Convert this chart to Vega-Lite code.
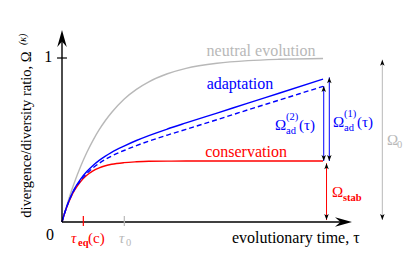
{
  "$schema": "https://vega.github.io/schema/vega-lite/v6.json",
  "width": 415,
  "height": 265,
  "autosize": {"type": "none"},
  "padding": 0,
  "background": "white",
  "config": {"view": {"stroke": null}, "text": {"font": "'Liberation Serif', 'DejaVu Serif', serif"}},
  "datasets": {
    "curves": [
      {"series": "neutral", "tau": 0, "omega": 0},
      {"series": "neutral", "tau": 0.05, "omega": 0.066},
      {"series": "neutral", "tau": 0.1, "omega": 0.128},
      {"series": "neutral", "tau": 0.15, "omega": 0.187},
      {"series": "neutral", "tau": 0.2, "omega": 0.241},
      {"series": "neutral", "tau": 0.3, "omega": 0.339},
      {"series": "neutral", "tau": 0.4, "omega": 0.424},
      {"series": "neutral", "tau": 0.5, "omega": 0.498},
      {"series": "neutral", "tau": 0.6, "omega": 0.563},
      {"series": "neutral", "tau": 0.7, "omega": 0.619},
      {"series": "neutral", "tau": 0.8, "omega": 0.668},
      {"series": "neutral", "tau": 1.0, "omega": 0.749},
      {"series": "neutral", "tau": 1.2, "omega": 0.809},
      {"series": "neutral", "tau": 1.4, "omega": 0.855},
      {"series": "neutral", "tau": 1.7, "omega": 0.904},
      {"series": "neutral", "tau": 2.0, "omega": 0.937},
      {"series": "neutral", "tau": 2.5, "omega": 0.968},
      {"series": "neutral", "tau": 3.0, "omega": 0.984},
      {"series": "neutral", "tau": 3.5, "omega": 0.992},
      {"series": "neutral", "tau": 4.21, "omega": 0.997},
      {"series": "conservation", "tau": 0, "omega": 0},
      {"series": "conservation", "tau": 0.05, "omega": 0.062},
      {"series": "conservation", "tau": 0.1, "omega": 0.113},
      {"series": "conservation", "tau": 0.15, "omega": 0.156},
      {"series": "conservation", "tau": 0.2, "omega": 0.192},
      {"series": "conservation", "tau": 0.3, "omega": 0.247},
      {"series": "conservation", "tau": 0.4, "omega": 0.285},
      {"series": "conservation", "tau": 0.5, "omega": 0.312},
      {"series": "conservation", "tau": 0.6, "omega": 0.33},
      {"series": "conservation", "tau": 0.7, "omega": 0.343},
      {"series": "conservation", "tau": 0.8, "omega": 0.352},
      {"series": "conservation", "tau": 1.0, "omega": 0.362},
      {"series": "conservation", "tau": 1.2, "omega": 0.367},
      {"series": "conservation", "tau": 1.4, "omega": 0.37},
      {"series": "conservation", "tau": 1.7, "omega": 0.371},
      {"series": "conservation", "tau": 2.0, "omega": 0.372},
      {"series": "conservation", "tau": 3.0, "omega": 0.372},
      {"series": "conservation", "tau": 4.21, "omega": 0.372},
      {"series": "adaptation", "tau": 0, "omega": 0},
      {"series": "adaptation", "tau": 0.05, "omega": 0.064},
      {"series": "adaptation", "tau": 0.1, "omega": 0.118},
      {"series": "adaptation", "tau": 0.15, "omega": 0.163},
      {"series": "adaptation", "tau": 0.2, "omega": 0.202},
      {"series": "adaptation", "tau": 0.3, "omega": 0.262},
      {"series": "adaptation", "tau": 0.4, "omega": 0.308},
      {"series": "adaptation", "tau": 0.5, "omega": 0.345},
      {"series": "adaptation", "tau": 0.6, "omega": 0.376},
      {"series": "adaptation", "tau": 0.7, "omega": 0.402},
      {"series": "adaptation", "tau": 0.8, "omega": 0.425},
      {"series": "adaptation", "tau": 1.0, "omega": 0.463},
      {"series": "adaptation", "tau": 1.2, "omega": 0.497},
      {"series": "adaptation", "tau": 1.4, "omega": 0.527},
      {"series": "adaptation", "tau": 1.7, "omega": 0.567},
      {"series": "adaptation", "tau": 2.0, "omega": 0.604},
      {"series": "adaptation", "tau": 2.5, "omega": 0.664},
      {"series": "adaptation", "tau": 3.0, "omega": 0.725},
      {"series": "adaptation", "tau": 3.5, "omega": 0.785},
      {"series": "adaptation", "tau": 4.21, "omega": 0.871},
      {"series": "adaptation2", "tau": 0, "omega": 0},
      {"series": "adaptation2", "tau": 0.05, "omega": 0.063},
      {"series": "adaptation2", "tau": 0.1, "omega": 0.116},
      {"series": "adaptation2", "tau": 0.15, "omega": 0.16},
      {"series": "adaptation2", "tau": 0.2, "omega": 0.197},
      {"series": "adaptation2", "tau": 0.3, "omega": 0.253},
      {"series": "adaptation2", "tau": 0.4, "omega": 0.296},
      {"series": "adaptation2", "tau": 0.5, "omega": 0.33},
      {"series": "adaptation2", "tau": 0.6, "omega": 0.358},
      {"series": "adaptation2", "tau": 0.7, "omega": 0.382},
      {"series": "adaptation2", "tau": 0.8, "omega": 0.402},
      {"series": "adaptation2", "tau": 1.0, "omega": 0.436},
      {"series": "adaptation2", "tau": 1.2, "omega": 0.466},
      {"series": "adaptation2", "tau": 1.4, "omega": 0.493},
      {"series": "adaptation2", "tau": 1.7, "omega": 0.53},
      {"series": "adaptation2", "tau": 2.0, "omega": 0.565},
      {"series": "adaptation2", "tau": 2.5, "omega": 0.624},
      {"series": "adaptation2", "tau": 3.0, "omega": 0.684},
      {"series": "adaptation2", "tau": 3.5, "omega": 0.743},
      {"series": "adaptation2", "tau": 4.21, "omega": 0.827}
    ],
    "segments": [
      {"name": "y axis", "series": "axis", "kind": "axis", "tau": 0, "omega": 0, "tau2": 0, "omega2": 1.12},
      {"name": "x axis", "series": "axis", "kind": "axis", "tau": 0, "omega": 0, "tau2": 4.58, "omega2": 0},
      {"name": "tick 1", "series": "axis", "kind": "tick", "tau": -0.08, "omega": 1, "tau2": 0.08, "omega2": 1},
      {"name": "tau_eq", "series": "conservation", "kind": "tick", "tau": 0.344, "omega": -0.024, "tau2": 0.344, "omega2": 0.037},
      {"name": "tau_0", "series": "neutral", "kind": "tick", "tau": 1.005, "omega": -0.024, "tau2": 1.005, "omega2": 0.037},
      {"name": "Omega_ad1", "series": "adaptation", "kind": "dimension", "tau": 4.311, "omega": 0.372, "tau2": 4.311, "omega2": 0.882},
      {"name": "Omega_ad2", "series": "adaptation", "kind": "dimension", "tau": 4.221, "omega": 0.372, "tau2": 4.221, "omega2": 0.829},
      {"name": "Omega_stab", "series": "conservation", "kind": "dimension", "tau": 4.266, "omega": 0.012, "tau2": 4.266, "omega2": 0.358},
      {"name": "Omega_0", "series": "neutral", "kind": "dimension", "tau": 5.166, "omega": 0.012, "tau2": 5.166, "omega2": 0.99}
    ],
    "heads": [
      {"dir": "up-axis", "tau": 0, "omega": 1.171},
      {"dir": "right-axis", "tau": 4.677, "omega": 0},
      {"dir": "up", "tau": 4.311, "omega": 0.882},
      {"dir": "down", "tau": 4.311, "omega": 0.372},
      {"dir": "up", "tau": 4.221, "omega": 0.829},
      {"dir": "down", "tau": 4.221, "omega": 0.372},
      {"dir": "up", "tau": 4.266, "omega": 0.358},
      {"dir": "down", "tau": 4.266, "omega": 0.012},
      {"dir": "up", "tau": 5.166, "omega": 0.99},
      {"dir": "down", "tau": 5.166, "omega": 0.012}
    ],
    "labels": [
      {"label": "neutral evolution", "tau": 3.21, "omega": 1.015, "series": "neutral", "role": "word"},
      {"label": "adaptation", "tau": 2.87, "omega": 0.809, "series": "adaptation", "role": "word"},
      {"label": "conservation", "tau": 2.968, "omega": 0.399, "series": "conservation", "role": "word"},
      {"label": "evolutionary time, τ", "tau": 3.77, "omega": -0.126, "series": "axis", "role": "word"},
      {"label": "0", "tau": -0.194, "omega": -0.11, "series": "axis", "role": "word"},
      {"label": "1", "tau": -0.22, "omega": 0.973, "series": "axis", "role": "word"},
      {"label": "Ω", "tau": 3.435, "omega": 0.561, "series": "adaptation", "role": "math"},
      {"label": "(τ)", "tau": 3.823, "omega": 0.561, "series": "adaptation", "role": "math"},
      {"label": "Ω", "tau": 4.371, "omega": 0.579, "series": "adaptation", "role": "math"},
      {"label": "(τ)", "tau": 4.758, "omega": 0.579, "series": "adaptation", "role": "math"},
      {"label": "Ω", "tau": 5.242, "omega": 0.47, "series": "neutral", "role": "math"},
      {"label": "Ω", "tau": 4.355, "omega": 0.152, "series": "conservation", "role": "math"},
      {"label": "(c)", "tau": 0.419, "omega": -0.128, "series": "conservation", "role": "math"},
      {"label": "τ", "tau": 0.145, "omega": -0.128, "series": "conservation", "role": "mathit"},
      {"label": "τ", "tau": 0.919, "omega": -0.128, "series": "neutral", "role": "mathit"},
      {"label": "(2)", "tau": 3.613, "omega": 0.622, "series": "adaptation", "role": "script"},
      {"label": "ad", "tau": 3.613, "omega": 0.537, "series": "adaptation", "role": "script"},
      {"label": "(1)", "tau": 4.548, "omega": 0.64, "series": "adaptation", "role": "script"},
      {"label": "ad", "tau": 4.548, "omega": 0.555, "series": "adaptation", "role": "script"},
      {"label": "0", "tau": 5.403, "omega": 0.451, "series": "neutral", "role": "script"},
      {"label": "0", "tau": 1.032, "omega": -0.146, "series": "neutral", "role": "script"},
      {"label": "stab", "tau": 4.532, "omega": 0.128, "series": "conservation", "role": "scriptbold"},
      {"label": "eq", "tau": 0.258, "omega": -0.146, "series": "conservation", "role": "scriptbold"},
      {"label": "divergence/diversity ratio, Ω", "tau": -0.492, "omega": 1.04, "series": "axis", "role": "ytitle"},
      {"label": "(κ)", "tau": -0.58, "omega": 1.079, "series": "axis", "role": "ysup"}
    ]
  },
  "layer": [
    {
      "data": {"name": "curves"},
      "transform": [{"filter": "datum.series !== 'adaptation2'"}],
      "mark": {"type": "line", "strokeWidth": 1.4, "interpolate": "monotone"},
      "encoding": {
        "x": {"field": "tau", "type": "quantitative", "scale": {"domain": [0, 4.677], "range": [62, 352], "nice": false, "zero": false}, "axis": null},
        "y": {"field": "omega", "type": "quantitative", "scale": {"domain": [0, 1], "range": [222, 58], "nice": false, "zero": false}, "axis": null},
        "color": {"field": "series", "type": "nominal", "scale": {"domain": ["neutral", "adaptation", "adaptation2", "conservation", "axis"], "range": ["#b8b8b8", "#0000ff", "#0000ff", "#ff0000", "#000000"]}, "legend": null}
      }
    },
    {
      "data": {"name": "curves"},
      "transform": [{"filter": "datum.series === 'adaptation2'"}],
      "mark": {"type": "line", "strokeWidth": 1.4, "interpolate": "monotone", "strokeDash": [5, 3]},
      "encoding": {
        "x": {"field": "tau", "type": "quantitative"},
        "y": {"field": "omega", "type": "quantitative"},
        "color": {"field": "series", "type": "nominal", "legend": null}
      }
    },
    {
      "data": {"name": "segments"},
      "mark": {"type": "rule"},
      "encoding": {
        "x": {"field": "tau", "type": "quantitative"},
        "x2": {"field": "tau2"},
        "y": {"field": "omega", "type": "quantitative"},
        "y2": {"field": "omega2"},
        "color": {"field": "series", "type": "nominal", "legend": null},
        "strokeWidth": {"field": "kind", "type": "ordinal", "scale": {"domain": ["axis", "tick", "dimension"], "range": [1.4, 1, 0.8]}, "legend": null}
      }
    },
    {
      "data": {"name": "heads"},
      "mark": {"type": "point", "filled": true, "size": 25, "opacity": 1, "strokeWidth": 0, "color": "#000000"},
      "encoding": {
        "x": {"field": "tau", "type": "quantitative"},
        "y": {"field": "omega", "type": "quantitative"},
        "shape": {"field": "dir", "type": "nominal", "scale": {"domain": ["up", "down", "up-axis", "right-axis"], "range": ["M0,0L0.9,2.4L0,1.8L-0.9,2.4Z", "M0,0L0.9,-2.4L0,-1.8L-0.9,-2.4Z", "M0,0L1.9,6.8L0,4.6L-1.9,6.8Z", "M0,0L-6.8,1.9L-4.6,0L-6.8,-1.9Z"]}, "legend": null}
      }
    },
    {
      "data": {"name": "labels"},
      "transform": [{"filter": "datum.role === 'word'"}],
      "mark": {"type": "text", "align": "center", "baseline": "alphabetic", "fontSize": 16},
      "encoding": {
        "x": {"field": "tau", "type": "quantitative"},
        "y": {"field": "omega", "type": "quantitative"},
        "text": {"field": "label"},
        "color": {"field": "series", "type": "nominal", "legend": null}
      }
    },
    {
      "data": {"name": "labels"},
      "transform": [{"filter": "datum.role === 'math'"}],
      "mark": {"type": "text", "align": "left", "baseline": "alphabetic", "fontSize": 15},
      "encoding": {
        "x": {"field": "tau", "type": "quantitative"},
        "y": {"field": "omega", "type": "quantitative"},
        "text": {"field": "label"},
        "color": {"field": "series", "type": "nominal", "legend": null}
      }
    },
    {
      "data": {"name": "labels"},
      "transform": [{"filter": "datum.role === 'mathit'"}],
      "mark": {"type": "text", "align": "left", "baseline": "alphabetic", "fontSize": 15, "fontStyle": "italic"},
      "encoding": {
        "x": {"field": "tau", "type": "quantitative"},
        "y": {"field": "omega", "type": "quantitative"},
        "text": {"field": "label"},
        "color": {"field": "series", "type": "nominal", "legend": null}
      }
    },
    {
      "data": {"name": "labels"},
      "transform": [{"filter": "datum.role === 'script'"}],
      "mark": {"type": "text", "align": "left", "baseline": "alphabetic", "fontSize": 10.5},
      "encoding": {
        "x": {"field": "tau", "type": "quantitative"},
        "y": {"field": "omega", "type": "quantitative"},
        "text": {"field": "label"},
        "color": {"field": "series", "type": "nominal", "legend": null}
      }
    },
    {
      "data": {"name": "labels"},
      "transform": [{"filter": "datum.role === 'scriptbold'"}],
      "mark": {"type": "text", "align": "left", "baseline": "alphabetic", "fontSize": 10.5, "fontWeight": "bold"},
      "encoding": {
        "x": {"field": "tau", "type": "quantitative"},
        "y": {"field": "omega", "type": "quantitative"},
        "text": {"field": "label"},
        "color": {"field": "series", "type": "nominal", "legend": null}
      }
    },
    {
      "data": {"name": "labels"},
      "transform": [{"filter": "datum.role === 'ytitle'"}],
      "mark": {"type": "text", "align": "right", "baseline": "alphabetic", "fontSize": 14.5, "angle": 270},
      "encoding": {
        "x": {"field": "tau", "type": "quantitative"},
        "y": {"field": "omega", "type": "quantitative"},
        "text": {"field": "label"},
        "color": {"field": "series", "type": "nominal", "legend": null}
      }
    },
    {
      "data": {"name": "labels"},
      "transform": [{"filter": "datum.role === 'ysup'"}],
      "mark": {"type": "text", "align": "left", "baseline": "alphabetic", "fontSize": 10, "angle": 270, "fontStyle": "italic"},
      "encoding": {
        "x": {"field": "tau", "type": "quantitative"},
        "y": {"field": "omega", "type": "quantitative"},
        "text": {"field": "label"},
        "color": {"field": "series", "type": "nominal", "legend": null}
      }
    }
  ]
}
